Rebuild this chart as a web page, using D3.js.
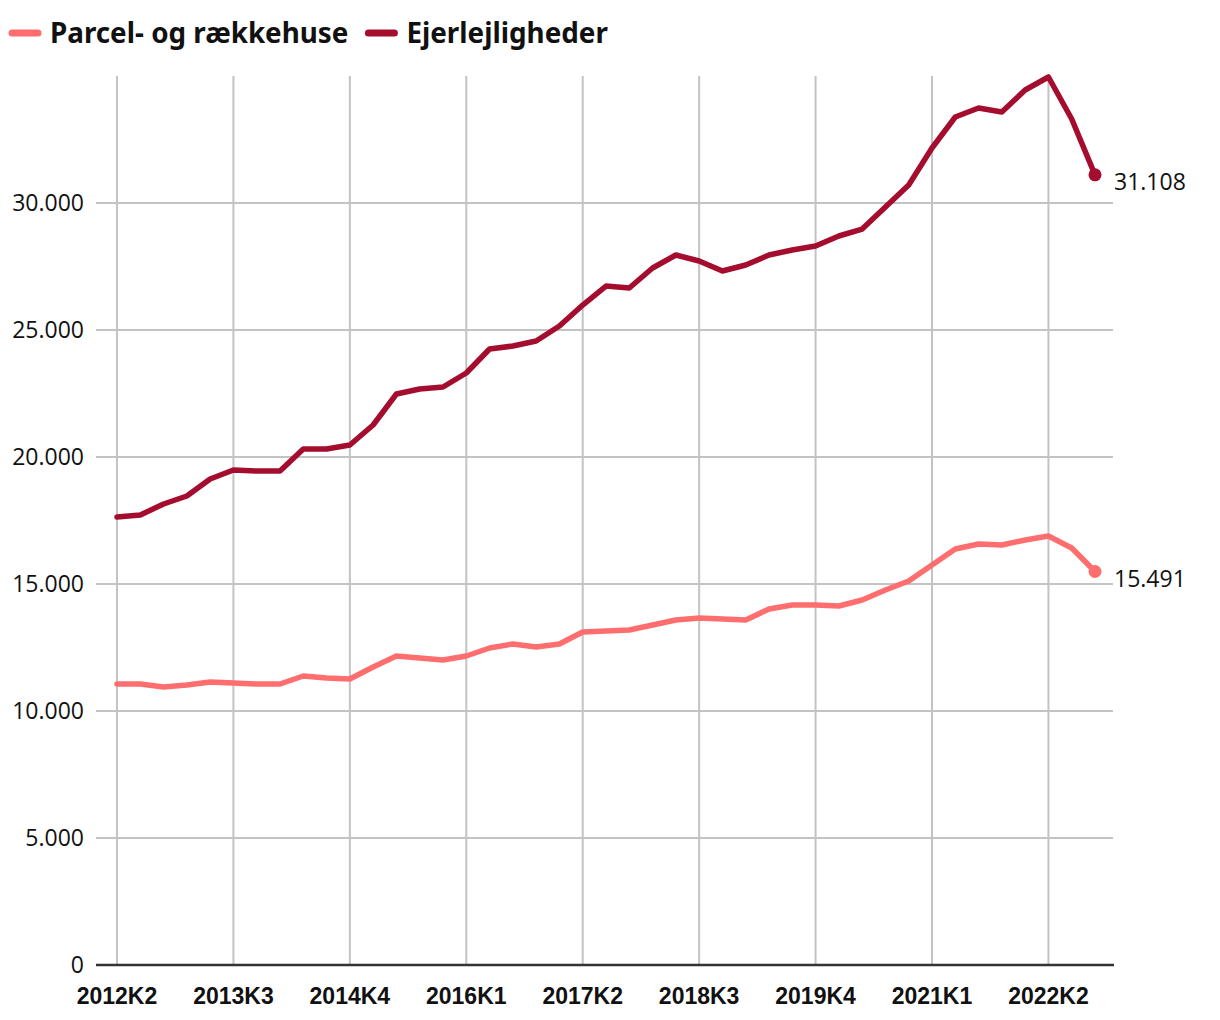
<!DOCTYPE html>
<html><head><meta charset="utf-8">
<script src="https://cdn.jsdelivr.net/npm/d3@7"></script>
<style>body{margin:0;background:#fff}</style>
</head><body><div id="chart"></div>
<script>
const quarters = ["2012K2","2012K3","2012K4","2013K1","2013K2","2013K3","2013K4","2014K1","2014K2","2014K3","2014K4","2015K1","2015K2","2015K3","2015K4","2016K1","2016K2","2016K3","2016K4","2017K1","2017K2","2017K3","2017K4","2018K1","2018K2","2018K3","2018K4","2019K1","2019K2","2019K3","2019K4","2020K1","2020K2","2020K3","2020K4","2021K1","2021K2","2021K3","2021K4","2022K1","2022K2","2022K3","2022K4"];
const tickLabels = ["2012K2","2013K3","2014K4","2016K1","2017K2","2018K3","2019K4","2021K1","2022K2"];
const yTicks = [0,5000,10000,15000,20000,25000,30000];
const seriesNames = ["Parcel- og rækkehuse","Ejerlejligheder"];
const parcel = [11063,11063,10945,11024,11142,11102,11063,11063,11378,11299,11260,11732,12165,12087,12008,12165,12480,12638,12520,12638,13110,13150,13189,13386,13583,13661,13622,13583,14016,14173,14173,14134,14370,14764,15118,15748,16378,16575,16535,16732,16890,16417,15491];
const ejer = [17638,17717,18150,18465,19134,19488,19449,19449,20315,20315,20472,21260,22480,22677,22756,23307,24252,24370,24567,25157,25984,26732,26654,27441,27953,27717,27323,27559,27953,28150,28307,28701,28976,29843,30709,32165,33386,33740,33583,34449,34961,33307,31108];
const colors = ["#ff6e6e","#a50d2f"];

const W = 1220, H = 1020;
const svg = d3.select("#chart").append("svg").attr("width", W).attr("height", H);
const x = d3.scalePoint().domain(quarters).range([117, 1095]);
const y = d3.scaleLinear().domain([0, 35000]).range([965, 76]);
const fmt = d3.formatLocale({decimal: ",", thousands: ".", grouping: [3], currency: ["", " kr."]}).format(",");

svg.append("g").selectAll("line").data(yTicks.filter(d => d > 0)).join("line")
  .attr("x1", 96).attr("x2", 1113).attr("y1", d => y(d)).attr("y2", d => y(d))
  .attr("stroke", "#c3c3c3").attr("stroke-width", 2);
svg.append("g").selectAll("line").data(tickLabels).join("line")
  .attr("x1", d => x(d)).attr("x2", d => x(d)).attr("y1", y(35000)).attr("y2", 965)
  .attr("stroke", "#c3c3c3").attr("stroke-width", 2);
svg.append("line").attr("x1", 96).attr("x2", 1114).attr("y1", 965).attr("y2", 965)
  .attr("stroke", "#333").attr("stroke-width", 2.5);

svg.append("g").selectAll("text").data(yTicks).join("text")
  .attr("x", 84).attr("y", d => y(d)).attr("dy", "0.35em").attr("text-anchor", "end")
  .attr("font-family", "Open Sans, Noto Sans, sans-serif").attr("font-size", 23).attr("fill", "#111")
  .text(d => fmt(d));
svg.append("g").selectAll("text").data(tickLabels).join("text")
  .attr("x", d => x(d)).attr("y", 996).attr("dy", "0.35em").attr("text-anchor", "middle")
  .attr("font-family", "Liberation Sans, Arial, sans-serif").attr("font-weight", "bold").attr("font-size", 23).attr("fill", "#111")
  .text(d => d);

const line = d3.line().x((d, i) => x(quarters[i])).y(d => y(d));
[parcel, ejer].forEach((s, k) => {
  svg.append("path").datum(s).attr("d", line).attr("fill", "none")
    .attr("stroke", colors[k]).attr("stroke-width", 5.5).attr("stroke-linejoin", "round").attr("stroke-linecap", "round");
  const last = s.length - 1;
  svg.append("circle").attr("cx", x(quarters[last])).attr("cy", y(s[last])).attr("r", 6.5).attr("fill", colors[k]);
  svg.append("text").attr("x", 1114).attr("y", y(s[last]) + 7).attr("dy", "0.35em")
    .attr("font-family", "Open Sans, Noto Sans, sans-serif").attr("font-size", 23).attr("fill", "#111")
    .text(fmt(s[last]));
});

const leg = svg.append("g");
let lx = 12;
seriesNames.forEach((n, k) => {
  leg.append("line").attr("x1", lx).attr("x2", lx + 26).attr("y1", 33).attr("y2", 33)
    .attr("stroke", colors[k]).attr("stroke-width", 7).attr("stroke-linecap", "round");
  const t = leg.append("text").attr("x", lx + 38).attr("y", 33).attr("dy", "0.35em")
    .attr("font-family", "Noto Sans, sans-serif").attr("font-weight", "bold").attr("font-size", 27.8).attr("fill", "#111")
    .text(n);
  lx += 38 + t.node().getComputedTextLength() + 20;
});
</script></body></html>
